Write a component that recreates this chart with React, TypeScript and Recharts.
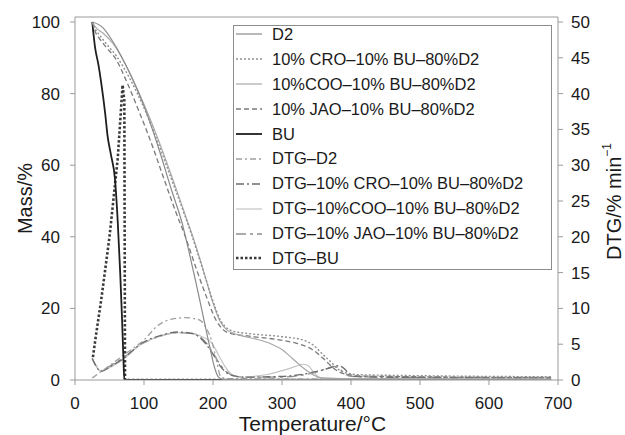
import React from "react";
import {
  LineChart,
  Line,
  XAxis,
  YAxis,
  ReferenceLine,
  Label,
} from "recharts";

// TG curves (left axis, Mass/%)
const d2Temp = [25, 40, 55, 80, 100, 120, 140, 155, 165, 175, 185, 195, 203, 208, 215, 300, 690];
const d2Mass = [100, 98.5, 94.5, 85.5, 76.5, 65.5, 53, 44, 36, 27.5, 18.5, 9.5, 3, 0.8, 0.2, 0.1, 0];

const croTemp = [25, 30, 35, 45, 60, 80, 100, 120, 140, 160, 170, 180, 190, 200, 210, 220, 230, 250, 300, 330, 345, 360, 370, 383, 393, 410, 500, 690];
const croMass = [100, 97.8, 96.5, 94, 90.5, 84, 76, 66.5, 56, 45.5, 40, 34, 28, 22, 17, 14.5, 13.6, 13, 12.1, 11.2, 9.8, 7, 5.2, 2.8, 2, 1.5, 1.2, 0.9];

const cooTemp = [25, 30, 40, 55, 80, 100, 120, 140, 160, 170, 180, 190, 200, 210, 220, 230, 245, 265, 285, 300, 315, 330, 345, 355, 380, 690];
const cooMass = [100, 98.5, 97, 94, 85.5, 77, 67.5, 57, 46, 40.5, 34.5, 28, 21.5, 16.5, 14, 13, 12.2, 11.3, 10, 8.5, 6, 3.5, 1.5, 0.6, 0.4, 0.2];

const jaoTemp = [25, 30, 35, 45, 60, 72, 92, 111, 128, 145, 160, 175, 190, 205, 215, 225, 250, 296, 320, 344, 360, 368, 383, 393, 420, 500, 690];
const jaoMass = [100, 97, 95.5, 93, 89.4, 84.6, 75.4, 66, 56.7, 47.5, 40, 31.5, 23.5, 16.5, 14, 13, 12.3, 11.2, 10.3, 8.5, 6, 4.5, 2.2, 1.6, 1.1, 0.9, 0.7];

const buTemp = [25, 29, 34, 38, 44, 47, 52, 58, 62, 65.5, 68, 70, 71.5, 355];
const buMass = [100, 93, 88, 83, 74, 68.5, 63, 56, 44, 30, 18, 7, 0, 0];

// DTG curves (right axis, %/min)
const dtgD2Temp = [25, 50, 75, 100, 120, 140, 160, 180, 190, 198, 205, 211, 220, 300, 690];
const dtgD2 = [0.3, 2, 3.8, 5.6, 7.6, 8.5, 8.7, 8.4, 7.3, 5.5, 2.8, 0.5, 0.2, 0.15, 0.1];

const dtgCroTemp = [25, 30, 38, 50, 70, 96, 120, 150, 170, 180, 190, 200, 210, 220, 235, 250, 300, 330, 350, 370, 382, 390, 398, 405, 450, 690];
const dtgCro = [3.0, 2.0, 1.2, 1.8, 3.0, 5.1, 6.1, 6.7, 6.5, 6.0, 5.0, 3.6, 2.0, 1.0, 0.5, 0.4, 0.5, 0.8, 1.2, 1.7, 2.0, 1.6, 0.8, 0.5, 0.4, 0.3];

const dtgCooTemp = [25, 30, 38, 50, 70, 96, 120, 150, 170, 185, 198, 208, 218, 230, 245, 260, 280, 300, 320, 330, 338, 345, 352, 360, 400, 690];
const dtgCoo = [3.0, 2.0, 1.2, 1.7, 2.9, 5.0, 6.0, 6.6, 6.5, 6.0, 5.2, 3.5, 1.8, 0.6, 0.3, 0.5, 0.8, 1.3, 1.9, 2.2, 2.0, 1.2, 0.5, 0.3, 0.2, 0.1];

const dtgJaoTemp = [25, 30, 38, 50, 70, 96, 120, 150, 170, 180, 190, 200, 210, 220, 235, 250, 300, 330, 350, 365, 375, 383, 392, 400, 450, 690];
const dtgJao = [3.0, 2.1, 1.3, 1.9, 3.1, 5.0, 6.0, 6.6, 6.5, 6.1, 5.2, 3.8, 2.2, 1.1, 0.5, 0.4, 0.4, 0.7, 1.1, 1.6, 1.9, 1.6, 0.8, 0.5, 0.4, 0.3];

const dtgBuTemp = [26, 30, 38, 50, 62, 69, 71.5, 72.5, 690];
const dtgBu = [3.2, 6, 11.2, 20, 31, 41.2, 39, 0, 0];

const tempTicks = [0, 100, 200, 300, 400, 500, 600, 700];
const massTicks = [0, 20, 40, 60, 80, 100];
const dtgTicks = [0, 5, 10, 15, 20, 25, 30, 35, 40, 45, 50];

const toPoints = (t: number[], v: number[]) => t.map((x, i) => ({ t: x, v: v[i] }));

interface Series {
  name: string;
  axis: "mass" | "dtg";
  points: { t: number; v: number }[];
  color: string;
  width: number;
  dash?: string;
  curve: "monotone" | "linear";
}

const series: Series[] = [
  { name: "D2", axis: "mass", points: toPoints(d2Temp, d2Mass), color: "#8a8a8a", width: 1.2, curve: "monotone" },
  { name: "10% CRO\u201310% BU\u201380%D2", axis: "mass", points: toPoints(croTemp, croMass), color: "#8f8f8f", width: 1.4, dash: "2 2", curve: "monotone" },
  { name: "10%COO\u201310% BU\u201380%D2", axis: "mass", points: toPoints(cooTemp, cooMass), color: "#a8a8a8", width: 1.2, curve: "monotone" },
  { name: "10% JAO\u201310% BU\u201380%D2", axis: "mass", points: toPoints(jaoTemp, jaoMass), color: "#7a7a7a", width: 1.3, dash: "5 3", curve: "monotone" },
  { name: "BU", axis: "mass", points: toPoints(buTemp, buMass), color: "#1e1e1e", width: 1.8, curve: "monotone" },
  { name: "DTG\u2013D2", axis: "dtg", points: toPoints(dtgD2Temp, dtgD2), color: "#a0a0a0", width: 1.3, dash: "6 3 2 3", curve: "monotone" },
  { name: "DTG\u201310% CRO\u201310% BU\u201380%D2", axis: "dtg", points: toPoints(dtgCroTemp, dtgCro), color: "#6e6e6e", width: 1.4, dash: "8 3 2 3", curve: "monotone" },
  { name: "DTG\u201310%COO\u201310% BU\u201380%D2", axis: "dtg", points: toPoints(dtgCooTemp, dtgCoo), color: "#c4c4c4", width: 1.2, curve: "monotone" },
  { name: "DTG\u201310% JAO\u201310% BU\u201380%D2", axis: "dtg", points: toPoints(dtgJaoTemp, dtgJao), color: "#909090", width: 1.3, dash: "10 4 3 4", curve: "monotone" },
  { name: "DTG\u2013BU", axis: "dtg", points: toPoints(dtgBuTemp, dtgBu), color: "#3a3a3a", width: 2.6, dash: "2.5 2", curve: "linear" },
];

const FONT = "'Liberation Sans', Arial, Helvetica, sans-serif";
const AXIS = "#9a9a9a";

const MassLabel = ({ viewBox }: any) => {
  const cx = viewBox.x + 25;
  const cy = viewBox.y + viewBox.height / 2;
  return (
    <text x={cx} y={cy} transform={`rotate(-90, ${cx}, ${cy})`} textAnchor="middle" dominantBaseline="central" fontSize={20} fill="#1a1a1a" fontFamily={FONT}>
      Mass/%
    </text>
  );
};

const DtgLabel = ({ viewBox }: any) => {
  const cx = viewBox.x + viewBox.width - 11;
  const cy = viewBox.y + viewBox.height / 2 + 3;
  return (
    <text x={cx} y={cy} transform={`rotate(-90, ${cx}, ${cy})`} textAnchor="middle" dominantBaseline="central" fontSize={20} fill="#1a1a1a" fontFamily={FONT}>
      DTG/% min
      <tspan fontSize={12} dy={-7}>{"\u22121"}</tspan>
    </text>
  );
};

const LegendBox = () => (
  <div
    style={{
      position: "absolute",
      left: 233,
      top: 25,
      width: 319,
      height: 245,
      border: "1px solid #8c8c8c",
      background: "#fff",
      boxSizing: "border-box",
      fontFamily: FONT,
      fontSize: 16.5,
      color: "#1a1a1a",
    }}
  >
    <div style={{ position: "absolute", top: -4, left: 2 }}>
      {series.map((s) => (
        <div key={s.name} style={{ display: "flex", alignItems: "center", height: 24.9, whiteSpace: "nowrap" }}>
          <svg width={26} height={10} style={{ marginRight: 10 }}>
            <line x1={0} y1={5} x2={26} y2={5} stroke={s.color} strokeWidth={s.width} strokeDasharray={s.dash} />
          </svg>
          <span>{s.name}</span>
        </div>
      ))}
    </div>
  </div>
);

export default function App() {
  return (
    <div style={{ position: "absolute", left: 0, top: 0, width: 625, height: 435, background: "#fff", fontFamily: FONT }}>
      <LineChart width={625} height={435} margin={{ top: 17, right: 0, bottom: 0, left: 0 }}>
        <XAxis
          dataKey="t"
          type="number"
          domain={[0, 700]}
          ticks={tempTicks}
          stroke={AXIS}
          tickSize={5}
          tickMargin={12}
          height={55}
          tick={{ fill: "#1a1a1a", fontSize: 17, fontFamily: FONT }}
        >
          <Label value="Temperature/°C" position="insideBottom" offset={4} dx={-4} style={{ fill: "#1a1a1a", fontSize: 21, fontFamily: FONT }} />
        </XAxis>
        <YAxis
          yAxisId="mass"
          domain={[0, 101.4]}
          ticks={massTicks}
          stroke={AXIS}
          width={75}
          tickSize={5}
          tickMargin={10}
          allowDataOverflow
          tick={{ fill: "#1a1a1a", fontSize: 17, fontFamily: FONT }}
        >
          <Label content={<MassLabel />} />
        </YAxis>
        <YAxis
          yAxisId="dtg"
          orientation="right"
          domain={[0, 50.7]}
          ticks={dtgTicks}
          stroke={AXIS}
          width={67}
          tickSize={5}
          tickMargin={8}
          allowDataOverflow
          tick={{ fill: "#1a1a1a", fontSize: 17, fontFamily: FONT, textAnchor: "start" }}
        >
          <Label content={<DtgLabel />} />
        </YAxis>
        <ReferenceLine yAxisId="mass" y={101.4} stroke={AXIS} />
        {series
          .slice()
          .reverse()
          .map((s) => (
            <Line
              key={s.name}
              yAxisId={s.axis}
              data={s.points}
              dataKey="v"
              type={s.curve}
              stroke={s.color}
              strokeWidth={s.width}
              strokeDasharray={s.dash}
              dot={false}
              activeDot={false}
              isAnimationActive={false}
            />
          ))}
      </LineChart>
      <LegendBox />
    </div>
  );
}
